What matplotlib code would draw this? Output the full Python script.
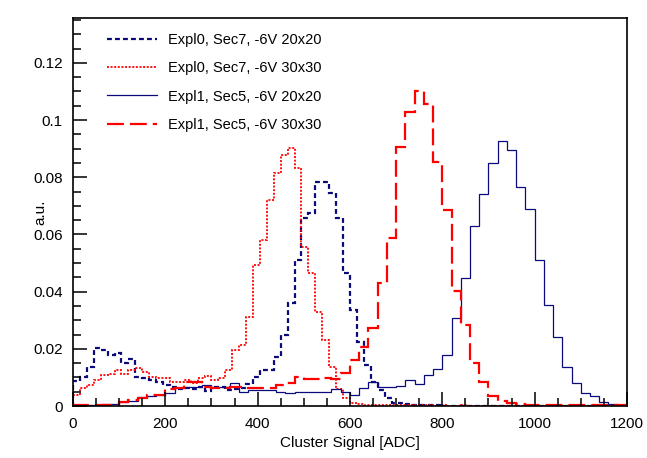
import numpy as np
import matplotlib
matplotlib.use('Agg')
import matplotlib.pyplot as plt
from matplotlib.lines import Line2D
from matplotlib.ticker import MultipleLocator, FuncFormatter

plt.rcParams['font.family'] = ['Liberation Sans', 'DejaVu Sans']

# Expl0 histograms: 80 bins of 15 ADC, 0..1200
expl0_20x20 = [0.0088, 0.0102, 0.0137, 0.0203, 0.0196, 0.0178, 0.0185, 0.0150, 0.0164, 0.0102,
               0.0097, 0.0090, 0.0085, 0.0075, 0.0067, 0.0060, 0.0062, 0.0058, 0.0067, 0.0052,
               0.0067, 0.0066, 0.0056, 0.0058, 0.0062, 0.0078, 0.0103, 0.0126, 0.0126, 0.0172,
               0.0248, 0.0360, 0.0510, 0.0657, 0.0674, 0.0784, 0.0784, 0.0745, 0.0657, 0.0465,
               0.0336, 0.0225, 0.0143, 0.0085, 0.0056, 0.0028, 0.0012, 0.0010, 0.0006, 0.0004,
               0.0003, 0.0002, 0.0002, 0.0001, 0.0001, 0.0001, 0.0, 0.0, 0.0, 0.0,
               0.0, 0.0, 0.0, 0.0, 0.0, 0.0, 0.0, 0.0, 0.0, 0.0,
               0.0, 0.0, 0.0, 0.0, 0.0, 0.0, 0.0, 0.0, 0.0, 0.0]
expl0_30x30 = [0.0038, 0.0062, 0.0074, 0.0090, 0.0110, 0.0112, 0.0126, 0.0112, 0.0126, 0.0134,
               0.0120, 0.0102, 0.0097, 0.0097, 0.0085, 0.0085, 0.0090, 0.0080, 0.0097, 0.0106,
               0.0092, 0.0098, 0.0126, 0.0196, 0.0213, 0.0312, 0.0493, 0.0580, 0.0720, 0.0814,
               0.0877, 0.0902, 0.0832, 0.0557, 0.0465, 0.0330, 0.0230, 0.0137, 0.0060, 0.0028,
               0.0012, 0.0008, 0.0005, 0.0004, 0.0003, 0.0003, 0.0002, 0.0002, 0.0002, 0.0002,
               0.0002, 0.0002, 0.0001, 0.0002, 0.0001, 0.0001, 0.0002, 0.0001, 0.0001, 0.0001,
               0.0001, 0.0001, 0.0001, 0.0001, 0.0001, 0.0001, 0.0001, 0.0001, 0.0001, 0.0001,
               0.0001, 0.0001, 0.0001, 0.0001, 0.0001, 0.0001, 0.0001, 0.0001, 0.0001, 0.0001]

# Expl1 histograms: 60 bins of 20 ADC, 0..1200
expl1_20x20 = [0.0003, 0.0003, 0.0004, 0.0006, 0.0008, 0.0015, 0.0018, 0.0033, 0.0035, 0.0040,
               0.0045, 0.0062, 0.0068, 0.0068, 0.0072, 0.0065, 0.0065, 0.0080, 0.0050, 0.0056,
               0.0056, 0.0055, 0.0050, 0.0045, 0.0050, 0.0048, 0.0048, 0.0050, 0.0058, 0.0050,
               0.0038, 0.0062, 0.0083, 0.0068, 0.0068, 0.0070, 0.0091, 0.0076, 0.0108, 0.0129,
               0.0178, 0.0308, 0.0448, 0.0630, 0.0741, 0.0850, 0.0928, 0.0895, 0.0765, 0.0688,
               0.0510, 0.0353, 0.0242, 0.0137, 0.0080, 0.0047, 0.0035, 0.0015, 0.0008, 0.0003]
expl1_30x30 = [0.0002, 0.0002, 0.0002, 0.0003, 0.0005, 0.0013, 0.0020, 0.0028, 0.0038, 0.0040,
               0.0060, 0.0062, 0.0085, 0.0085, 0.0068, 0.0062, 0.0062, 0.0068, 0.0065, 0.0062,
               0.0062, 0.0064, 0.0072, 0.0080, 0.0103, 0.0094, 0.0095, 0.0098, 0.0093, 0.0115,
               0.0160, 0.0207, 0.0272, 0.0431, 0.0587, 0.0907, 0.1029, 0.1100, 0.1056, 0.0854,
               0.0685, 0.0403, 0.0285, 0.0150, 0.0085, 0.0035, 0.0017, 0.0010, 0.0008, 0.0005,
               0.0004, 0.0003, 0.0003, 0.0002, 0.0002, 0.0002, 0.0002, 0.0002, 0.0002, 0.0002]

labels = ['Expl0, Sec7, -6V 20x20', 'Expl0, Sec7, -6V 30x30',
          'Expl1, Sec5, -6V 20x20', 'Expl1, Sec5, -6V 30x30']

navy = '#0a0a7a'
red = '#ff0000'

edges15 = np.linspace(0, 1200, len(expl0_20x20) + 1)
edges20 = np.linspace(0, 1200, len(expl1_20x20) + 1)

fig = plt.figure(figsize=(6.47, 4.58), dpi=100)
ax = fig.add_axes([0.1128, 0.1135, 0.8562, 0.8472])

styles = [
    dict(color=navy, lw=1.6, ls=(0, (2.2, 1.4))),
    dict(color=red, lw=1.3, ls=(0, (1.1, 0.9))),
    dict(color=navy, lw=0.9, ls='-'),
    dict(color=red, lw=1.6, ls=(0, (7.6, 2.7))),
]

ax.stairs(expl0_20x20, edges15, **styles[0])
ax.stairs(expl0_30x30, edges15, **styles[1])
ax.stairs(expl1_20x20, edges20, **styles[2])
ax.stairs(expl1_30x30, edges20, **styles[3])

ax.set_xlim(0, 1200)
ax.set_ylim(0, 0.1357)

ax.xaxis.set_major_locator(MultipleLocator(200))
ax.xaxis.set_minor_locator(MultipleLocator(50))
ax.yaxis.set_major_locator(MultipleLocator(0.02))
ax.yaxis.set_minor_locator(MultipleLocator(0.005))
ax.yaxis.set_major_formatter(FuncFormatter(lambda v, p: '%g' % round(v, 3)))

ax.tick_params(which='both', direction='in', top=False, right=False, labelsize=11, width=1.1)
ax.tick_params(which='major', length=10)
ax.tick_params(which='minor', length=5.5)
ax.tick_params(axis='x', which='major', pad=8)
ax.tick_params(axis='y', which='major', pad=7.5)
for s in ax.spines.values():
    s.set_linewidth(1.2)

ax.set_xlabel('Cluster Signal [ADC]', fontsize=11)
ax.set_ylabel('a.u.', fontsize=11)
ax.xaxis.set_label_coords(0.5, -0.076)
ax.yaxis.set_label_coords(-0.046, 0.5)

handles = [Line2D([], [], **st) for st in styles]
ax.legend(handles, labels, loc='upper left', bbox_to_anchor=(0.0614, 0.9606),
          frameon=False, fontsize=10.5, handlelength=3.4, handletextpad=0.75,
          labelspacing=0.97, borderpad=0, borderaxespad=0)

fig.savefig('out.png', dpi=100)
